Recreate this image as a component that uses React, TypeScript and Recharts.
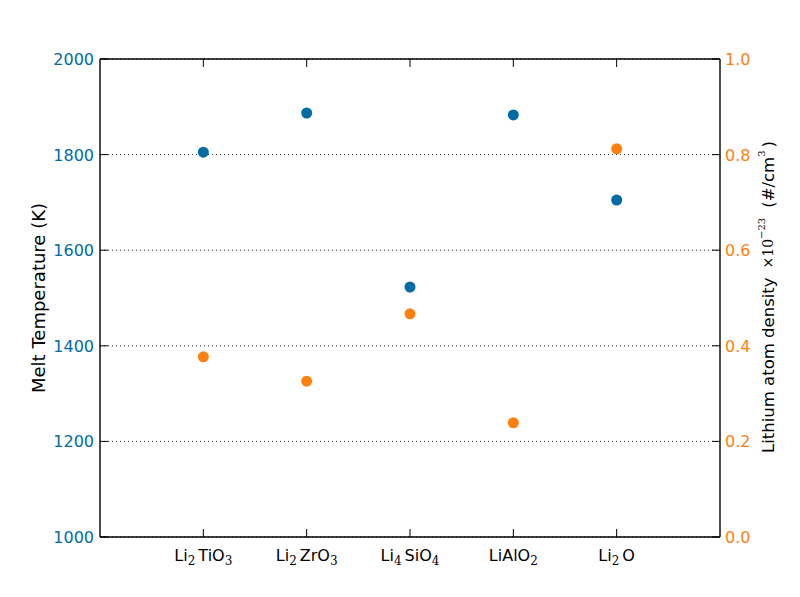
import { ScatterChart, Scatter, XAxis, YAxis, CartesianGrid, Label } from 'recharts';

// compounds (digits are drawn as subscripts)
const compounds = ['Li2TiO3', 'Li2ZrO3', 'Li4SiO4', 'LiAlO2', 'Li2O'];
// melt temperature (K), left axis
const meltTemps = [1805, 1887, 1523, 1883, 1705];
// lithium atom density (x10^-23 #/cm^3), right axis
const densities = [0.377, 0.326, 0.467, 0.239, 0.812];

const xTicks = [1, 2, 3, 4, 5];
const leftTicks = [1000, 1200, 1400, 1600, 1800, 2000];
const rightTicks = [0.0, 0.2, 0.4, 0.6, 0.8, 1.0];

const BLUE = '#006ba4';
const ORANGE = '#ff800e';
const FONT = '"DejaVu Sans", sans-serif';
const MATH = '"DejaVu Serif", serif';

const meltData = compounds.map((c, i) => ({ x: i + 1, melt: meltTemps[i] }));
const densityData = compounds.map((c, i) => ({ x: i + 1, density: densities[i] }));

function renderFormula(formula: string) {
  const parts = formula.match(/[A-Za-z]+|\d+/g) || [];
  const out: any[] = [];
  let sub = false;
  parts.forEach((p, i) => {
    if (/\d/.test(p)) {
      out.push(
        <tspan key={i} dy={4} fontSize={12} fontFamily={MATH}>{p}</tspan>
      );
      sub = true;
    } else {
      out.push(
        <tspan key={i} dy={sub ? -4 : 0} dx={sub ? 3 : 0}>{p}</tspan>
      );
      sub = false;
    }
  });
  return out;
}

function BottomTick({ x, y, payload }: any) {
  return (
    <g>
      <line x1={x} y1={y} x2={x} y2={y - 8} stroke="#000" strokeWidth={1} />
      <text x={x} y={y + 24} textAnchor="middle" fontSize={16} fontFamily={FONT} fill="#000">
        {renderFormula(compounds[payload.value - 1])}
      </text>
    </g>
  );
}

function TopTick({ x, y }: any) {
  return <line x1={x} y1={y} x2={x} y2={y + 8} stroke="#000" strokeWidth={1} />;
}

function LeftTick({ x, y, payload }: any) {
  return (
    <g>
      <line x1={x} y1={y} x2={x + 8} y2={y} stroke="#000" strokeWidth={1} />
      <text x={x - 6} y={y + 6} textAnchor="end" fontSize={16} fontFamily={FONT} fill={BLUE}>
        {payload.value}
      </text>
    </g>
  );
}

function RightTick({ x, y, payload }: any) {
  return (
    <g>
      <line x1={x} y1={y} x2={x - 8} y2={y} stroke="#000" strokeWidth={1} />
      <text x={x + 5} y={y + 6} textAnchor="start" fontSize={16} fontFamily={FONT} fill={ORANGE}>
        {Number(payload.value).toFixed(1)}
      </text>
    </g>
  );
}

function LeftTitle({ viewBox }: any) {
  const cx = viewBox.x + 38;
  const cy = viewBox.y + viewBox.height / 2;
  return (
    <text x={cx} y={cy} transform={`rotate(-90, ${cx}, ${cy})`} textAnchor="middle"
      dominantBaseline="central" fontSize={18} fontFamily={FONT} fill="#000">
      Melt Temperature (K)
    </text>
  );
}

function RightTitle({ viewBox }: any) {
  const cx = viewBox.x + 48;
  const cy = viewBox.y + viewBox.height / 2 - 1;
  return (
    <text x={cx} y={cy} transform={`rotate(-90, ${cx}, ${cy})`} textAnchor="middle"
      dominantBaseline="central" fontSize={16.5} fontFamily={FONT} fill="#000">
      <tspan>Lithium atom density</tspan>
      <tspan dx={9} fontFamily={MATH} fontSize={14}>×10</tspan>
      <tspan fontFamily={MATH} fontSize={10} dy={-7}>−23</tspan>
      <tspan dx={10} dy={7}>(#/cm</tspan>
      <tspan fontFamily={MATH} fontSize={10} dy={-7}>3</tspan>
      <tspan dx={3} dy={7}>)</tspan>
    </text>
  );
}

function Dot({ cx, cy, fill }: any) {
  return <circle cx={cx} cy={cy} r={5.5} fill={fill} />;
}

export default function App() {
  return (
    <div style={{ position: 'absolute', left: 0, top: 0, background: '#fff' }}>
      <ScatterChart width={800} height={597} margin={{ top: 58, right: 0, bottom: 0, left: 0 }}>
        <CartesianGrid
          xAxisId="bottom"
          yAxisId="left"
          vertical={false}
          stroke="#000"
          strokeWidth={0.8}
          strokeDasharray="1 3"
        />
        <XAxis
          xAxisId="bottom"
          dataKey="x"
          type="number"
          domain={[0, 6]}
          ticks={xTicks}
          height={60}
          stroke="#000"
          strokeWidth={1.4}
          tickSize={0}
          tickMargin={0}
          tick={<BottomTick />}
          interval={0}
        />
        <XAxis
          xAxisId="top"
          orientation="top"
          dataKey="x"
          type="number"
          domain={[0, 6]}
          ticks={xTicks}
          height={1}
          stroke="#000"
          strokeWidth={1.4}
          tickSize={0}
          tickMargin={0}
          tick={<TopTick />}
          interval={0}
        />
        <YAxis
          yAxisId="left"
          dataKey="melt"
          type="number"
          domain={[1000, 2000]}
          ticks={leftTicks}
          width={100}
          stroke="#000"
          strokeWidth={1.4}
          tickSize={0}
          tickMargin={0}
          tick={<LeftTick />}
          interval={0}
        >
          <Label content={<LeftTitle />} />
        </YAxis>
        <YAxis
          yAxisId="right"
          dataKey="density"
          orientation="right"
          type="number"
          domain={[0, 1]}
          ticks={rightTicks}
          width={80}
          stroke="#000"
          strokeWidth={1.4}
          tickSize={0}
          tickMargin={0}
          tick={<RightTick />}
          interval={0}
        >
          <Label content={<RightTitle />} />
        </YAxis>
        <Scatter
          data={meltData}
          xAxisId="bottom"
          yAxisId="left"
          fill={BLUE}
          shape={<Dot />}
          isAnimationActive={false}
        />
        <Scatter
          data={densityData}
          xAxisId="top"
          yAxisId="right"
          fill={ORANGE}
          shape={<Dot />}
          isAnimationActive={false}
        />
      </ScatterChart>
    </div>
  );
}
